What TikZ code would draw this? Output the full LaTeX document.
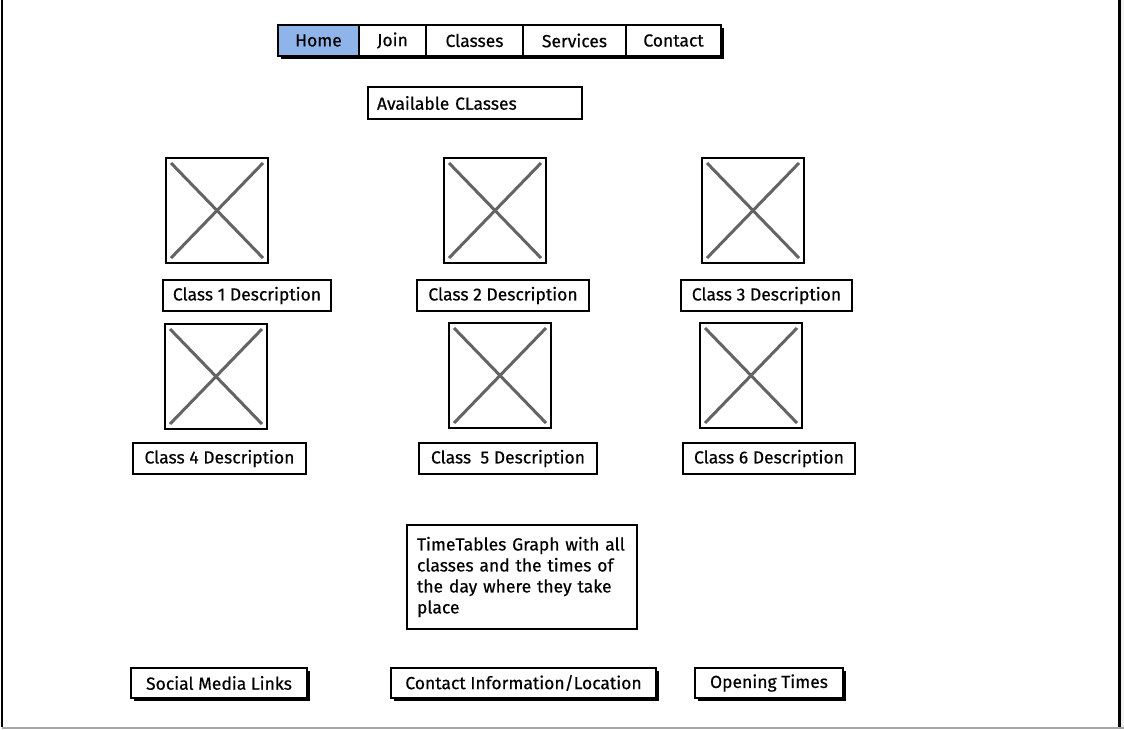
\documentclass[tikz,border=0pt]{standalone}
\usepackage{fontspec}
\setmainfont{Fira Sans}[FakeBold=0.5]
\usepackage{xcolor}
\definecolor{navblue}{RGB}{143,180,234}
\definecolor{xgray}{RGB}{100,100,100}
\usetikzlibrary{positioning,shadows,backgrounds}

\begin{document}
\begin{tikzpicture}[x=1pt,y=-1pt]

    \tikzset{
      wire/.style={
        draw,
        line width=1.6pt,
        fill=white,
        inner sep=0pt,
        outer sep=0pt,
        font=\fontsize{17.5}{20}\selectfont,
      },
      navbtn/.style={
        wire,
        minimum height=31,
      },
      descbox/.style={
        wire,
        minimum height=31,
      },
      footbox/.style={
        wire,
        minimum height=30,
        drop shadow={shadow xshift=3pt,shadow yshift=-3pt,fill=black,opacity=1},
      },
      imgph/.style={
        draw,
        line width=2pt,
        minimum width=102,
        minimum height=105,
        inner sep=0pt,
        path picture={
          \draw[xgray,line width=3pt]
            ([shift={(5,5)}]path picture bounding box.north west) --
            ([shift={(-5,-5)}]path picture bounding box.south east);
          \draw[xgray,line width=3pt]
            ([shift={(-5,5)}]path picture bounding box.north east) --
            ([shift={(5,-5)}]path picture bounding box.south west);
        },
      },
    }
    \useasboundingbox (0,0) rectangle (1124,729);
    % page frame
    \fill[gray!10] (1121,0) rectangle (1124,729);
    \draw[line width=2pt] (2,0) -- (2,727);
    \draw[line width=3pt] (1119.5,0) -- (1119.5,729);
    \draw[gray!70,line width=2pt] (2,728) -- (1124,728);

    % navigation
    \node[navbtn,fill=navblue,minimum width=81] (home) at (318.5,40.5) {Home};
    \node[navbtn,minimum width=67,right=0pt of home] (join) {Join};
    \node[navbtn,minimum width=97,right=0pt of join] (classes) {Classes};
    \node[navbtn,minimum width=103,right=0pt of classes] (services) {Services};
    \node[navbtn,minimum width=95,right=0pt of services] (contact) {Contact};
    \begin{scope}[on background layer]
      \fill ([shift={(3,3)}]home.north west) rectangle ([shift={(3,3)}]contact.south east);
    \end{scope}

    \node[wire,minimum height=32,inner xsep=9pt,text width=196,align=left] (avail) at (475,103) {Available CLasses};

    % classes
    \node[imgph] (img1) at (217,210.5) {};
    \node[imgph] (img2) at (495,210.5) {};
    \node[imgph] (img3) at (753,210.5) {};
    \node[imgph] (img4) at (216,376.5) {};
    \node[imgph] (img5) at (500,375.5) {};
    \node[imgph] (img6) at (751,375.5) {};

    \node[descbox,minimum width=168] (desc1) at (247,295.5) {Class 1 Description};
    \node[descbox,minimum width=172] (desc2) at (503,295.5) {Class 2 Description};
    \node[descbox,minimum width=171] (desc3) at (766.5,295.5) {Class 3 Description};
    \node[descbox,minimum width=173] (desc4) at (219.5,458.5) {Class 4 Description};
    \node[descbox,minimum width=178] (desc5) at (508,458.5) {Class\ \ 5 Description};
    \node[descbox,minimum width=172] (desc6) at (769,458.5) {Class 6 Description};

    % timetable
    \node[wire,minimum width=230,minimum height=104,text width=210,align=left,
      font=\fontsize{17.5}{21}\selectfont] (timetable) at (522,577)
      {TimeTables Graph with all\\classes and the times of\\the day where they take\\place};

    % footer
    \node[footbox,minimum width=176] (social) at (219,683) {Social Media Links};
    \node[footbox,minimum width=265] (contactinfo) at (523.5,683) {Contact Information/Location};
    \node[footbox,minimum width=148] (opening) at (769,683) {Opening Times};

\end{tikzpicture}
\end{document}
